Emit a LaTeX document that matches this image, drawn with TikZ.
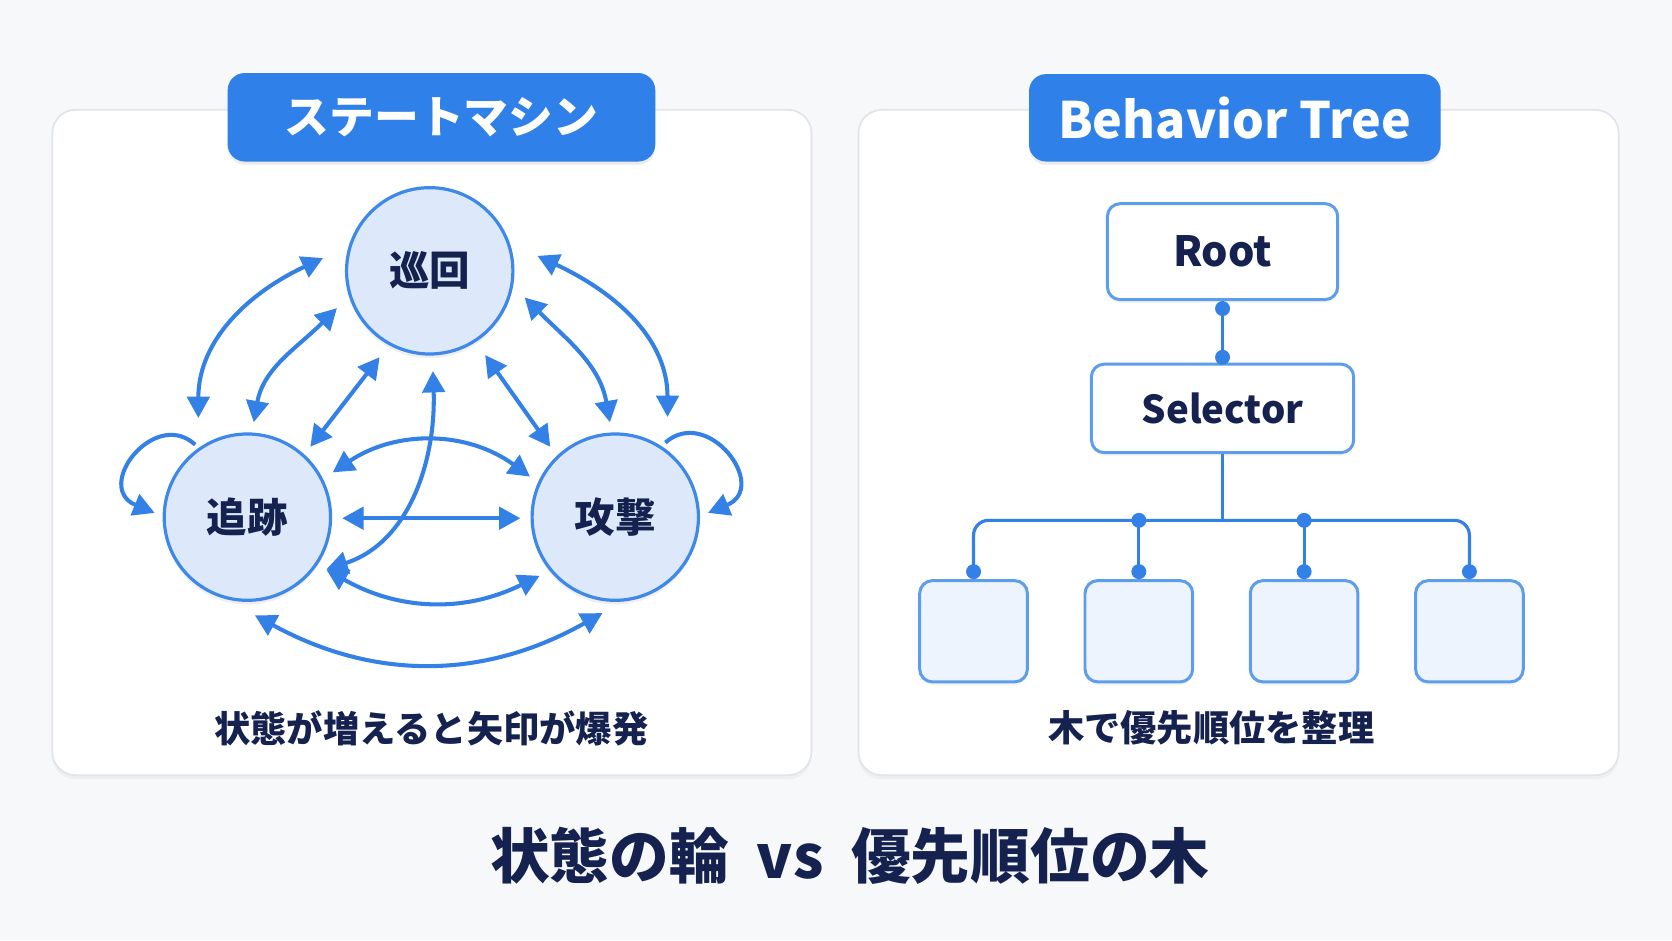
\documentclass[tikz,border=0pt]{standalone}
\usepackage{fontspec}
\setmainfont{Noto Sans CJK JP}
\usetikzlibrary{arrows.meta,shadows,calc}
\definecolor{bg}{HTML}{F7F8FA}
\definecolor{tabblue}{HTML}{2F80E9}
\definecolor{lineblue}{HTML}{3380E6}
\definecolor{navy}{HTML}{15214F}
\definecolor{circfill}{HTML}{DDE9FB}
\definecolor{circline}{HTML}{3D88E9}
\definecolor{panelline}{HTML}{E1E4EA}
\definecolor{leaffill}{HTML}{EEF4FE}
\definecolor{boxline}{HTML}{5C9DEC}
\newcommand\myfs[1]{\fontsize{#1}{#1}\selectfont}
\pgfdeclarelayer{back}
\pgfdeclarelayer{edges}
\pgfsetlayers{back,edges,main}
\tikzset{
  panel/.style={draw=panelline, line width=0.8pt, fill=white, rounded corners=11pt,
    drop shadow={opacity=0.07, shadow xshift=0pt, shadow yshift=-2pt}},
  tab/.style={fill=tabblue, rounded corners=8pt, text=white, inner sep=0pt,
    drop shadow={opacity=0.15, shadow xshift=0pt, shadow yshift=-1.5pt}},
  state/.style={circle, draw=circline, line width=1.5pt, fill=circfill, minimum size=78pt,
    inner sep=0pt, text=navy, font=\bfseries\myfs{19},
    drop shadow={opacity=0.12, shadow xshift=0pt, shadow yshift=-2pt}},
  trans/.style={draw=lineblue, line width=1.9pt, {Triangle[length=10pt,width=10.5pt]}-{Triangle[length=10pt,width=10.5pt]}},
  loopedge/.style={draw=lineblue, line width=1.9pt, -{Triangle[length=10pt,width=10.5pt]}},
  tbox/.style={draw=boxline, line width=1.4pt, fill=white, rounded corners=6pt, inner sep=0pt,
    text=navy, drop shadow={opacity=0.08, shadow xshift=0pt, shadow yshift=-1.5pt}},
  leaf/.style={draw=boxline, line width=1.4pt, fill=leaffill, rounded corners=6pt,
    minimum width=50.5pt, minimum height=47.5pt, inner sep=0pt,
    drop shadow={opacity=0.08, shadow xshift=0pt, shadow yshift=-1.5pt}},
  tline/.style={draw=lineblue, line width=1.5pt},
  dotm/.style={fill=lineblue},
  caption/.style={text=navy, font=\bfseries\myfs{17}},
}
\begin{document}
\begin{tikzpicture}[x=0.5pt,y=0.5pt]
\begin{pgfonlayer}{back}
\fill[bg] (0,0) rectangle (1568,882);
\node[panel, minimum width=356pt, minimum height=312pt] (lp) at (405,467) {};
\node[panel, minimum width=356.5pt, minimum height=312pt] (rp) at (1161.5,467) {};
\end{pgfonlayer}
\useasboundingbox (0,0) rectangle (1568,882);

% tabs
\node[tab, minimum width=200.5pt, minimum height=41.5pt, font=\bfseries\myfs{21}] (tabL) at (414,772) {ステートマシン};
\node[tab, minimum width=193pt, minimum height=41pt, font=\bfseries\myfs{23.5}] (tabR) at (1158,771.5) {Behavior Tree};

% states
\node[state] (P) at (403,628) {巡回};
\node[state] (C) at (232,397) {追跡};
\node[state] (A) at (577,397) {攻撃};

\begin{pgfonlayer}{edges}
\draw[trans] ($(P)+(-100,12)$) to[out=205,in=90] ($(C)+(-46,93)$);
\draw[trans] ($(P)+(-87,-35)$) to[out=225,in=80] ($(C)+(6,89)$);
\draw[trans] ($(P)+(-47,-81)$) -- ($(C)+(59,66)$);
\draw[trans] ($(P)+(101,14)$) to[out=-25,in=90] ($(A)+(49,94)$);
\draw[trans] ($(P)+(89,-25)$) to[out=-45,in=100] ($(A)+(-5,89)$);
\draw[trans] ($(P)+(52,-79)$) -- ($(A)+(-61,66)$);
\draw[trans] ($(C)+(80,42)$) to[bend left=35] ($(A)+(-80,38)$);
\draw[trans] ($(C)+(89,-1)$) -- ($(A)+(-89,-1)$);
\draw[trans] ($(P)+(3,-94)$) to[out=-88,in=18] ($(C)+(74,-49)$);
\draw[trans] ($(C)+(74,-49)$) to[bend right=28] ($(A)+(-71,-55)$);
\draw[trans] ($(C)+(7,-92)$) to[bend right=29] ($(A)+(-12,-90)$);
\draw[loopedge] ($(C)+(-49,68)$) .. controls ($(C)+(-87,103)$) and ($(C)+(-145,28)$) .. ($(C)+(-87,4)$);
\draw[loopedge] ($(A)+(47,70)$) .. controls ($(A)+(87,105)$) and ($(A)+(145,28)$) .. ($(A)+(87,4)$);
\end{pgfonlayer}

\node[caption] (capL) at (404.5,199) {状態が増えると矢印が爆発};

% tree
\node[tbox, minimum width=108pt, minimum height=45pt, font=\bfseries\myfs{19.5}] (root) at (1146.5,646) {Root};
\node[tbox, minimum width=123pt, minimum height=41.5pt, font=\bfseries\myfs{18}] (sel) at (1146.5,499) {Selector};
\node[leaf] (l1) at (913,290) {};
\node[leaf] (l2) at (1068,290) {};
\node[leaf] (l3) at (1223,290) {};
\node[leaf] (l4) at (1378,290) {};
\coordinate (bar) at (1146.5,394);

\begin{pgfonlayer}{edges}
\draw[tline] (root.south) -- (sel.north);
\draw[tline] (sel.south) -- (bar);
\draw[tline, rounded corners=7pt] (l1.north) |- (bar) -| (l4.north);
\draw[tline] (l2.north) -- (l2.north |- bar);
\draw[tline] (l3.north) -- (l3.north |- bar);
\end{pgfonlayer}
\fill[dotm] ($(root.south)+(0,-7)$) circle (7);
\fill[dotm] ($(sel.north)+(0,5)$) circle (7);
\fill[dotm] (l2.north |- bar) circle (7);
\fill[dotm] (l3.north |- bar) circle (7);
\foreach \l in {l1,l2,l3,l4}{\fill[dotm] ($(\l.north)+(0,7)$) circle (7);}

\node[caption] (capR) at (1136,199) {木で優先順位を整理};

% bottom title
\node[text=navy, font=\bfseries\myfs{28}] (title) at (797,79.5) {状態の輪\hspace{13pt}vs\hspace{13pt}優先順位の木};
\end{tikzpicture}
\end{document}
